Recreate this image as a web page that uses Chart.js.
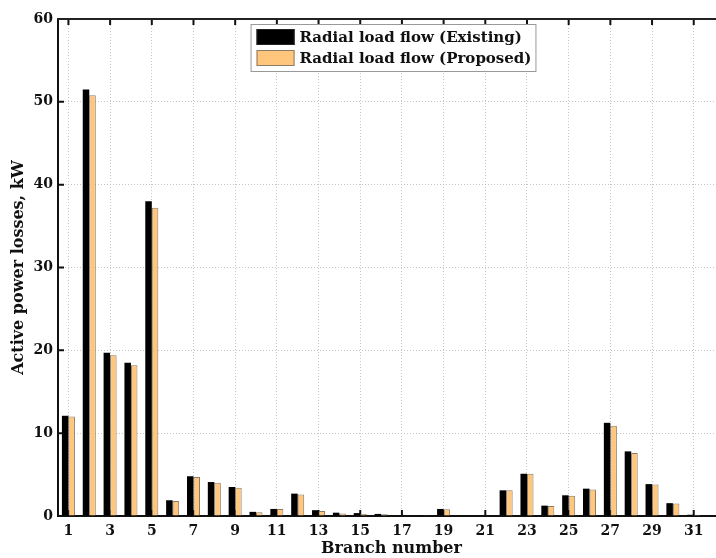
<!DOCTYPE html>
<html>
<head>
<meta charset="utf-8">
<script src="https://cdn.jsdelivr.net/npm/chart.js@4/dist/chart.umd.min.js"></script>
<style>
  html, body { margin: 0; padding: 0; background: #fff; overflow: hidden; }
</style>
</head>
<body>
<canvas id="grafico" width="740" height="558"></canvas>
<script>
const ramas = ["1","2","3","4","5","6","7","8","9","10","11","12","13","14","15","16",
  "17","18","19","20","21","22","23","24","25","26","27","28","29","30","31","32"]

const existente = [12.1, 51.5, 19.7, 18.5, 38.0, 1.9, 4.8, 4.1, 3.5, 0.5, 0.85, 2.7, 0.7, 0.4, 0.35, 0.25,
  0, 0.1, 0.85, 0, 0, 3.1, 5.1, 1.25, 2.5, 3.3, 11.25, 7.8, 3.85, 1.55, 0.15, 0]
const propuesto = [12.0, 50.8, 19.4, 18.2, 37.2, 1.8, 4.7, 4.0, 3.4, 0.45, 0.85, 2.6, 0.6, 0.3, 0.25, 0.2,
  0, 0.1, 0.8, 0, 0, 3.1, 5.1, 1.2, 2.45, 3.2, 10.9, 7.6, 3.8, 1.5, 0.12, 0]

const fuente = "'DejaVu Serif', 'Liberation Serif', serif"
const gris = "#c4c4c4"

// marcas hacia adentro y borde superior
const marcasInternas = {
  id: "marcasInternas",
  beforeDatasetsDraw(chart) {
    const { ctx, chartArea, scales } = chart
    ctx.save()
    ctx.strokeStyle = "#111"
    ctx.lineWidth = 2
    ctx.beginPath()
    scales.x.ticks.forEach((t, i) => {
      if (i % 2 !== 0) return
      const px = scales.x.getPixelForTick(i)
      ctx.moveTo(px, chartArea.top)
      ctx.lineTo(px, chartArea.top + 6)
      ctx.moveTo(px, chartArea.bottom)
      ctx.lineTo(px, chartArea.bottom - 6)
    })
    scales.y.ticks.forEach((t) => {
      const py = scales.y.getPixelForValue(t.value)
      ctx.moveTo(chartArea.left, py)
      ctx.lineTo(chartArea.left + 6, py)
    })
    ctx.stroke()
    ctx.beginPath()
    ctx.strokeStyle = "#222"
    ctx.moveTo(chartArea.left - 1, chartArea.top)
    ctx.lineTo(chartArea.right, chartArea.top)
    ctx.stroke()
    ctx.restore()
  }
}

// leyenda dentro del area del grafico
const leyendaCaja = {
  id: "leyendaCaja",
  afterDraw(chart) {
    const { ctx, chartArea } = chart
    const sets = chart.data.datasets
    ctx.save()
    ctx.font = "bold 15px " + fuente
    const anchoTexto = Math.max(...sets.map(d => ctx.measureText(d.label).width))
    const anchoCaja = 6 + 38 + 5 + anchoTexto + 4
    const altoCaja = 47
    const x0 = 393 - anchoCaja / 2
    const y0 = chartArea.top + 5
    ctx.fillStyle = "#fff"
    ctx.fillRect(x0, y0, anchoCaja, altoCaja)
    ctx.strokeStyle = "#999"
    ctx.lineWidth = 1
    ctx.strokeRect(x0 + 0.5, y0 + 0.5, anchoCaja, altoCaja)
    sets.forEach((d, i) => {
      const yy = y0 + 5 + i * 21
      ctx.fillStyle = d.backgroundColor
      ctx.fillRect(x0 + 6, yy, 38, 16)
      ctx.strokeStyle = d.borderColor
      ctx.strokeRect(x0 + 6.5, yy + 0.5, 37, 15)
      ctx.fillStyle = "#111"
      ctx.textBaseline = "middle"
      ctx.textAlign = "left"
      ctx.fillText(d.label, x0 + 49, yy + 9)
    })
    ctx.restore()
  }
}

const config = {
  type: "bar",
  data: {
    labels: ramas,
    datasets: [
      {
        label: "Radial load flow (Existing)",
        data: existente,
        backgroundColor: "#000000",
        borderColor: "#222222",
        borderWidth: 0,
        categoryPercentage: 0.625,
        barPercentage: 1
      },
      {
        label: "Radial load flow (Proposed)",
        data: propuesto,
        backgroundColor: "#ffc67c",
        borderColor: "#8a7a66",
        borderWidth: 1,
        categoryPercentage: 0.625,
        barPercentage: 1
      }
    ]
  },
  options: {
    responsive: false,
    animation: false,
    layout: { padding: { top: 19, right: 15, left: 0, bottom: 0 } },
    plugins: {
      legend: { display: false },
      tooltip: { enabled: false }
    },
    scales: {
      x: {
        offset: true,
        afterFit: (s) => { s.height = 42 },
        grid: {
          offset: false,
          drawTicks: false,
          color: (c) => (c.index % 2 === 0 ? gris : "transparent"),
          lineWidth: 1
        },
        border: { display: true, color: "#111", width: 2, dash: [1, 2] },
        ticks: {
          autoSkip: false,
          maxRotation: 0,
          padding: 7,
          color: "#111",
          font: { family: fuente, size: 14, weight: "bold" },
          callback: function (v, i) { return i % 2 === 0 ? this.getLabelForValue(v) : "" }
        },
        title: {
          display: true,
          text: "Branch number",
          color: "#111",
          font: { family: fuente, size: 16, weight: "bold" },
          padding: { top: 0, bottom: 0 }
        }
      },
      y: {
        min: 0,
        max: 60,
        afterFit: (s) => { s.width = 58 },
        grid: {
          drawTicks: false,
          color: (c) => (c.tick.value > 0 && c.tick.value < 60 ? gris : "transparent"),
          lineWidth: 1
        },
        border: { display: true, color: "#111", width: 2, dash: [1, 2] },
        ticks: {
          stepSize: 10,
          padding: 5,
          color: "#111",
          font: { family: fuente, size: 14, weight: "bold" }
        },
        title: {
          display: true,
          text: "Active power losses, kW",
          color: "#111",
          font: { family: fuente, size: 16, weight: "bold" },
          padding: { top: 9, bottom: 0 }
        }
      }
    }
  },
  plugins: [marcasInternas, leyendaCaja]
}

const grafico = new Chart(document.getElementById("grafico"), config)
</script>
</body>
</html>
